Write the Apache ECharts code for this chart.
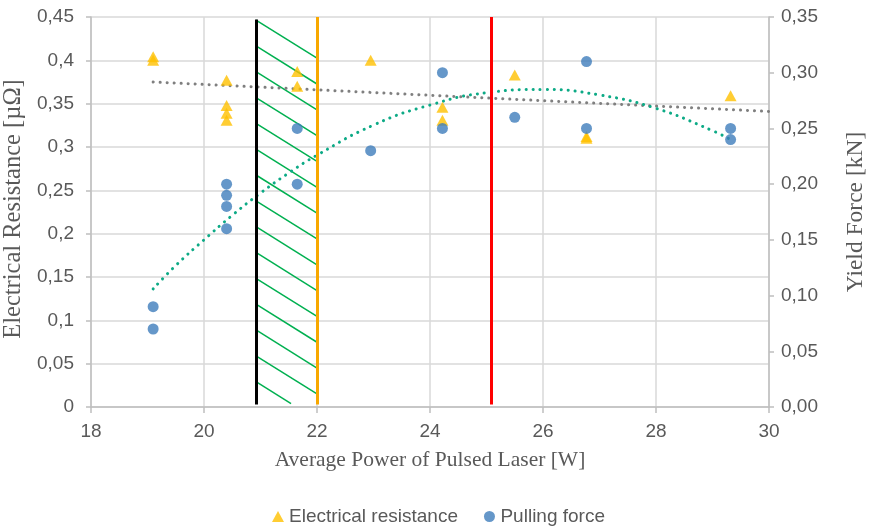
<!DOCTYPE html>
<html>
<head>
<meta charset="utf-8">
<script src="https://cdn.jsdelivr.net/npm/echarts@6/dist/echarts.min.js"></script>
<style>
html,body{margin:0;padding:0;background:#fff;}
#chart{width:872px;height:529px;}
</style>
</head>
<body>
<div id="chart"></div>
<script>
// ---- data ----
const resistX = [19.1, 19.1, 20.4, 20.4, 20.4, 20.4, 21.65, 21.65, 22.95, 24.22, 24.22, 25.5, 26.77, 26.77, 29.32];
const resistY = [0.404, 0.400, 0.377, 0.348, 0.339, 0.331, 0.387, 0.370, 0.400, 0.346, 0.331, 0.383, 0.312, 0.310, 0.359];

const forceX = [19.1, 19.1, 20.4, 20.4, 20.4, 20.4, 21.65, 21.65, 22.95, 24.22, 24.22, 25.5, 26.77, 26.77, 29.32, 29.32];
const forceY = [0.09, 0.07, 0.20, 0.19, 0.18, 0.16, 0.25, 0.20, 0.23, 0.30, 0.25, 0.26, 0.31, 0.25, 0.25, 0.24];

// trendlines
const resistTrendX = [19.1, 30];
const resistTrendY = [0.375, 0.341];
const forceTrendX = [19.1, 19.5, 20, 20.5, 21, 21.5, 22, 23, 24, 25, 26, 27, 28, 29, 29.32];
const forceTrendY = [0.106, 0.127, 0.150, 0.172, 0.192, 0.210, 0.226, 0.253, 0.271, 0.282, 0.285, 0.280, 0.268, 0.248, 0.240];

// vertical marker lines and hatched band (x positions, W)
const markerX = [20.92, 22.0, 25.08];
const hatchBand = [20.92, 22.0];

const xTicks = [18, 20, 22, 24, 26, 28, 30];

const zip = (a, b) => a.map((v, i) => [v, b[i]]);

const chart = echarts.init(document.getElementById('chart'), null, {renderer: 'canvas'});

const axisGray = '#BFBFBF';
const gridGray = '#D9D9D9';
const textGray = '#595959';
const serif = '"Liberation Serif", "DejaVu Serif", serif';
const sans = '"Liberation Sans", Arial, sans-serif';

function hatchRender(params, api) {
  const x0 = hatchBand[0], x1 = hatchBand[1];
  const start = 0.4465, step = 0.0298, drop = 0.044, bottom = 0.004;
  const children = [];
  for (let k = 0; k < 15; k++) {
    const yl = start - k * step;
    if (yl <= bottom) break;
    let xr = x1, yr = yl - drop;
    if (yr < bottom) {
      const t = (yl - bottom) / drop;
      xr = x0 + t * (x1 - x0);
      yr = bottom;
    }
    const p0 = api.coord([x0, yl]);
    const p1 = api.coord([xr, yr]);
    children.push({
      type: 'line',
      shape: {x1: p0[0], y1: p0[1], x2: p1[0], y2: p1[1]},
      style: {stroke: '#00B050', lineWidth: 1.5}
    });
  }
  return {type: 'group', children: children};
}

const dotted = (color) => ({color: color, width: 3, type: [0.1, 6.9], cap: 'round'});

const option = {
  animation: false,
  backgroundColor: '#ffffff',
  grid: {left: 91, right: 103, top: 17, bottom: 122, containLabel: false, outerBoundsMode: 'none'},
  legend: {
    left: 267, top: 502,
    itemWidth: 12, itemHeight: 11, itemGap: 26,
    textStyle: {color: textGray, fontSize: 19, fontFamily: sans},
    data: [
      {name: 'Electrical resistance', icon: 'triangle'},
      {name: 'Pulling force', icon: 'circle'}
    ]
  },
  xAxis: {
    type: 'value', min: 18, max: 30, interval: 2,
    name: 'Average Power of Pulsed Laser [W]',
    nameLocation: 'middle', nameGap: 42,
    nameTextStyle: {color: textGray, fontSize: 21.5, fontFamily: serif},
    axisLine: {show: true, lineStyle: {color: axisGray, width: 1.5}},
    axisTick: {show: true, length: 6, lineStyle: {color: axisGray, width: 1.5}},
    axisLabel: {color: textGray, fontSize: 19, fontFamily: sans, margin: 15,
      formatter: v => xTicks.includes(v) ? String(v) : ''},
    splitLine: {show: true, lineStyle: {color: gridGray, width: 1.5}}
  },
  yAxis: [
    {
      type: 'value', min: 0, max: 0.45, interval: 0.05,
      name: 'Electrical Resistance [µΩ]',
      nameLocation: 'middle', nameGap: 58, nameRotate: 90,
      nameTextStyle: {color: textGray, fontSize: 24.5, fontFamily: serif, padding: [0, 0, 0, 6]},
      axisLine: {show: true, lineStyle: {color: axisGray, width: 1.5}},
      axisTick: {show: true, length: 5, lineStyle: {color: axisGray, width: 1.5}},
      axisLabel: {color: textGray, fontSize: 19, fontFamily: sans, margin: 17,
        formatter: v => String(+v.toFixed(2)).replace('.', ',')},
      splitLine: {show: true, lineStyle: {color: gridGray, width: 1.5}}
    },
    {
      type: 'value', min: 0, max: 0.35, interval: 0.05, position: 'right',
      name: 'Yield Force [kN]',
      nameLocation: 'middle', nameGap: 75, nameRotate: 90,
      nameTextStyle: {color: textGray, fontSize: 23.5, fontFamily: serif},
      axisLine: {show: true, lineStyle: {color: axisGray, width: 1.5}},
      axisTick: {show: true, length: 5, lineStyle: {color: axisGray, width: 1.5}},
      axisLabel: {color: textGray, fontSize: 19, fontFamily: sans, margin: 12,
        formatter: v => v.toFixed(2).replace('.', ',')},
      splitLine: {show: false}
    }
  ],
  series: [
    {
      type: 'custom', name: 'hatch', xAxisIndex: 0, yAxisIndex: 0,
      renderItem: hatchRender, data: [[hatchBand[0], 0]], silent: true, z: 1,
      clip: true
    },
    {
      type: 'line', name: 'resistTrend', yAxisIndex: 0,
      data: zip(resistTrendX, resistTrendY), showSymbol: false, symbol: 'none',
      lineStyle: dotted('#7F7F7F'), silent: true, z: 2
    },
    {
      type: 'line', name: 'forceTrend', yAxisIndex: 1,
      data: zip(forceTrendX, forceTrendY), showSymbol: false, symbol: 'none', smooth: true,
      lineStyle: dotted('#0DAA86'), silent: true, z: 2
    },
    {
      type: 'scatter', name: 'Electrical resistance', yAxisIndex: 0,
      symbol: 'triangle', symbolSize: [12, 11],
      itemStyle: {color: '#FFC000'},
      data: zip(resistX, resistY), z: 4,
      markLine: {
        silent: true, symbol: 'none', label: {show: false}, animation: false,
        data: [
          [{coord: [markerX[0], 0.003], lineStyle: {color: '#000000', width: 3, type: 'solid'}},
           {coord: [markerX[0], 0.447]}],
          [{coord: [markerX[1], 0.003], lineStyle: {color: '#F8A800', width: 3, type: 'solid'}},
           {coord: [markerX[1], 0.45]}],
          [{coord: [markerX[2], 0.003], lineStyle: {color: '#FF0000', width: 3, type: 'solid'}},
           {coord: [markerX[2], 0.45]}]
        ]
      }
    },
    {
      type: 'scatter', name: 'Pulling force', yAxisIndex: 1,
      symbol: 'circle', symbolSize: 11,
      itemStyle: {color: '#3E7DBB'},
      data: zip(forceX, forceY), z: 5
    }
  ]
};

chart.setOption(option);
</script>
</body>
</html>
